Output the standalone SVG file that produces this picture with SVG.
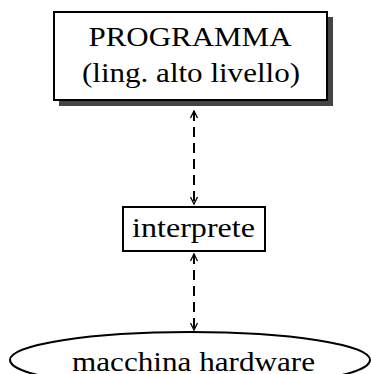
<svg xmlns="http://www.w3.org/2000/svg" width="371" height="374" viewBox="0 0 371 374">
<style>
text{font-family:"Liberation Serif","DejaVu Serif",serif;fill:#000;text-anchor:middle}
.box{fill:#fff;stroke:#000;stroke-width:2}
.conn{stroke:#000;stroke-width:2;stroke-dasharray:10,6;fill:none}
</style>
<defs>
<marker id="ah" markerWidth="10" markerHeight="10" refX="8" refY="5" orient="auto-start-reverse" markerUnits="userSpaceOnUse">
<path d="M1,1.5 L8,5 L1,8.5" fill="none" stroke="#000" stroke-width="1.3"/>
</marker>
</defs>
<g id="programma">
<rect x="59" y="17" width="274" height="89" fill="#444"/>
<rect class="box" x="54" y="12" width="273" height="88"/>
<text x="190" y="46" font-size="28" textLength="203" lengthAdjust="spacingAndGlyphs">PROGRAMMA</text>
<text x="191" y="82" font-size="28" textLength="218" lengthAdjust="spacingAndGlyphs">(ling. alto livello)</text>
</g>
<g id="interprete">
<rect class="box" x="123" y="207" width="142" height="44"/>
<text x="193.5" y="237" font-size="27" textLength="123" lengthAdjust="spacingAndGlyphs">interprete</text>
</g>
<g id="hardware">
<ellipse cx="190" cy="360" rx="180" ry="28" fill="#fff" stroke="#000" stroke-width="2"/>
<text x="193.5" y="371" font-size="28" textLength="243" lengthAdjust="spacingAndGlyphs">macchina hardware</text>
</g>
<g id="connectors">
<path class="conn" d="M194,111 L194,204" marker-start="url(#ah)" marker-end="url(#ah)"/>
<path class="conn" d="M194,254 L194,330" marker-start="url(#ah)" marker-end="url(#ah)"/>
</g>
</svg>
